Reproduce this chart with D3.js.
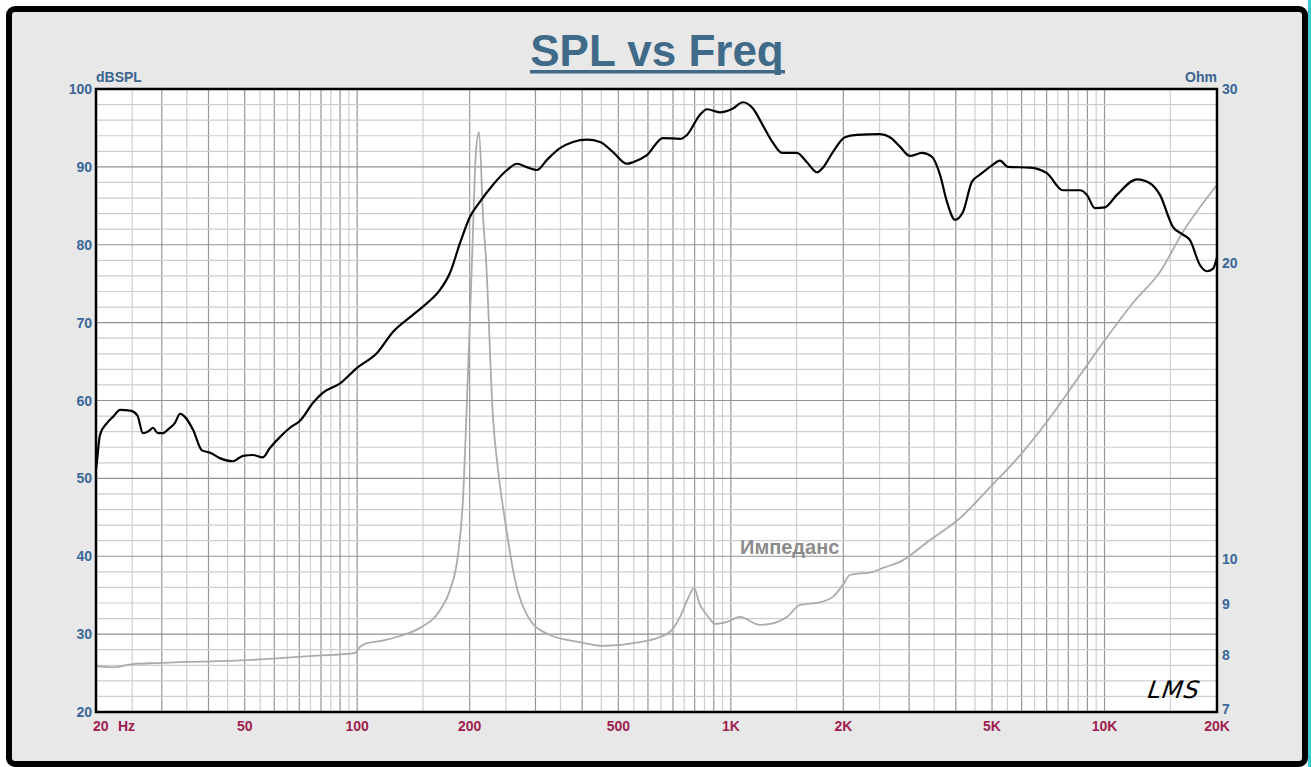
<!DOCTYPE html>
<html>
<head>
<meta charset="utf-8">
<script src="https://cdn.jsdelivr.net/npm/d3@7"></script>
<style>
  body { margin: 0; background: #fff; }
  svg text { font-family: "Liberation Sans", Arial, sans-serif; }
</style>
</head>
<body>
<div id="chart"></div>
<script>
// SPL curve: frequency (Hz) and level (dB SPL)
var splFreq = [20, 20.1, 20.5, 21.4, 22.2, 23.2, 24.7, 25.8, 26.7, 27.9, 28.4, 29.3, 30.2, 31.2, 32.5, 33.6, 34.6, 36.4, 38.4, 40.4, 42.9, 46.5, 49.5, 52.6, 55.9, 58.4, 62.1, 66.1, 70.3, 76.2, 81, 90, 99.9, 113, 124.6, 141, 153.8, 166.6, 177.2, 188.4, 200.4, 213, 230.9, 251.8, 267.7, 286.5, 302.8, 322, 348.9, 378, 412, 446.6, 483.8, 527, 547, 596, 658, 731, 763, 827, 863, 935, 1013, 1077, 1146, 1219, 1296, 1370, 1502, 1598, 1700, 1764, 1875, 2020, 2175, 2506, 2665, 2835, 3015, 3247, 3453, 3628, 3788, 3979, 4180, 4418, 4642, 5000, 5250, 5514, 6314, 7010, 7737, 8595, 8973, 9426, 10020, 10790, 12210, 13230, 14070, 15240, 16210, 16930, 18000, 18800, 19500, 20000];
var splDb = [51.1, 52.0, 55.6, 57.1, 57.9, 58.8, 58.7, 58.1, 55.8, 56.2, 56.5, 55.8, 55.8, 56.3, 57.1, 58.3, 57.9, 56.2, 53.6, 53.3, 52.6, 52.2, 52.9, 53.0, 52.7, 53.9, 55.3, 56.5, 57.4, 59.7, 61.0, 62.2, 64.2, 66.1, 68.8, 71.0, 72.5, 74.2, 76.4, 80.2, 83.6, 85.5, 87.7, 89.6, 90.4, 89.9, 89.6, 90.9, 92.4, 93.2, 93.5, 93.2, 91.9, 90.4, 90.6, 91.5, 93.7, 93.6, 94.1, 96.7, 97.4, 97.0, 97.5, 98.3, 97.5, 95.3, 93.1, 91.8, 91.8, 90.6, 89.3, 89.9, 91.9, 93.8, 94.1, 94.2, 93.8, 92.6, 91.4, 91.8, 91.3, 89.0, 85.5, 83.2, 84.2, 88.1, 89.0, 90.2, 90.8, 90.0, 89.9, 89.2, 87.0, 87.0, 86.4, 84.7, 84.8, 86.4, 88.4, 87.9, 86.4, 82.3, 81.3, 80.6, 77.4, 76.6, 76.9, 78.4];

// impedance curve: frequency (Hz) and ohms
var impFreq = [20, 22.2, 25.1, 29.7, 35, 41.1, 50.7, 62.1, 76.2, 86.1, 98.6, 101.7, 106.2, 115.1, 130.2, 147.2, 166.6, 177.2, 186.1, 191.9, 196.7, 202.9, 208, 211.9, 217.2, 221.3, 230.9, 238.2, 248.6, 264.4, 290, 328, 394.6, 455, 571, 646, 696, 731, 768, 797, 827, 863, 907, 976, 1058, 1196, 1273, 1413, 1531, 1700, 1875, 1995, 2083, 2401, 2553, 2835, 3411, 4103, 4936, 5938, 7143, 8595, 10024, 11910, 14070, 16210, 20000];
var impOhm = [7.79, 7.77, 7.83, 7.85, 7.87, 7.88, 7.90, 7.94, 7.98, 8.00, 8.03, 8.15, 8.22, 8.26, 8.36, 8.52, 8.88, 9.31, 10.10, 11.49, 14.5, 20.1, 26.0, 27.13, 22.25, 20.1, 13.92, 12.32, 10.96, 9.53, 8.68, 8.38, 8.24, 8.17, 8.24, 8.34, 8.48, 8.74, 9.13, 9.35, 8.99, 8.78, 8.60, 8.64, 8.74, 8.58, 8.60, 8.74, 8.99, 9.03, 9.16, 9.42, 9.64, 9.71, 9.80, 9.94, 10.46, 11.01, 11.83, 12.75, 13.92, 15.37, 16.69, 18.2, 19.56, 21.48, 23.97];

// axis ticks and labels
var dbTicks = [20, 30, 40, 50, 60, 70, 80, 90, 100];
var ohmTicks = [7, 8, 9, 10, 20, 30];
var freqTicks = [20, 50, 100, 200, 500, 1000, 2000, 5000, 10000, 20000];
var freqLabels = ["20", "50", "100", "200", "500", "1K", "2K", "5K", "10K", "20K"];

var W = 1313, H = 767;
var plotL = 96, plotR = 1217, plotT = 89, plotB = 712;

var svg = d3.select("#chart").append("svg")
    .attr("width", W)
    .attr("height", H);

// panel and frame
svg.append("rect")
    .attr("x", 9).attr("y", 9)
    .attr("width", 1296).attr("height", 755)
    .attr("rx", 6)
    .style("fill", "#e8e8e8")
    .style("stroke", "#000")
    .style("stroke-width", 6);
svg.append("rect")
    .attr("x", 1308).attr("y", 0)
    .attr("width", 3).attr("height", H)
    .style("fill", "#3cc8d8");

var x = d3.scaleLog().domain([20, 20000]).range([plotL, plotR]);
var yDb = d3.scaleLinear().domain([20, 100]).range([plotB, plotT]);
var yOhm = d3.scaleLog().domain([7, 30]).range([plotB, plotT]);

svg.append("rect")
    .attr("x", plotL).attr("y", plotT)
    .attr("width", plotR - plotL).attr("height", plotB - plotT)
    .style("fill", "#fff");

// vertical grid: every half step of each decade
var vLines = [];
[10, 100, 1000, 10000].forEach(function(d) {
    for (var k = 1; k < 10; k += 0.5) {
        var v = d * k;
        if (v > 20 && v < 20000) vLines.push({v: v, major: k % 1 === 0});
    }
});
svg.append("g").selectAll("line")
    .data(vLines)
    .enter().append("line")
    .attr("x1", function(d) { return x(d.v); })
    .attr("x2", function(d) { return x(d.v); })
    .attr("y1", plotT).attr("y2", plotB)
    .style("stroke", function(d) { return d.major ? "#969696" : "#cfcfcf"; })
    .style("stroke-width", 1.2);

// horizontal grid every 2 dB
var hLines = d3.range(22, 100, 2);
svg.append("g").selectAll("line")
    .data(hLines)
    .enter().append("line")
    .attr("x1", plotL).attr("x2", plotR)
    .attr("y1", function(d) { return yDb(d); })
    .attr("y2", function(d) { return yDb(d); })
    .style("stroke", function(d) { return d % 10 === 0 ? "#929292" : "#cdcdcd"; })
    .style("stroke-width", 1.2);

// curves
var impLine = d3.line()
    .x(function(d) { return x(d[0]); })
    .y(function(d) { return yOhm(d[1]); })
    .curve(d3.curveMonotoneX);
svg.append("path")
    .datum(d3.zip(impFreq, impOhm))
    .attr("d", impLine)
    .style("fill", "none")
    .style("stroke", "#ababab")
    .style("stroke-width", 1.8);

var splLine = d3.line()
    .x(function(d) { return x(d[0]); })
    .y(function(d) { return yDb(d[1]); })
    .curve(d3.curveMonotoneX);
svg.append("path")
    .datum(d3.zip(splFreq, splDb))
    .attr("d", splLine)
    .style("fill", "none")
    .style("stroke", "#000")
    .style("stroke-width", 2.2)
    .style("stroke-linejoin", "round");

// plot border
svg.append("rect")
    .attr("x", plotL).attr("y", plotT)
    .attr("width", plotR - plotL).attr("height", plotB - plotT)
    .style("fill", "none")
    .style("stroke", "#000")
    .style("stroke-width", 2.5);

// left axis labels
svg.append("g").selectAll("text")
    .data(dbTicks)
    .enter().append("text")
    .attr("x", 92)
    .attr("y", function(d) { return yDb(d) + 5; })
    .attr("text-anchor", "end")
    .style("font-size", "14px")
    .style("font-weight", "bold")
    .style("fill", "#39679a")
    .text(function(d) { return d; });

// right axis labels
svg.append("g").selectAll("text")
    .data(ohmTicks)
    .enter().append("text")
    .attr("x", 1222)
    .attr("y", function(d) { return yOhm(d) + 5 - (d === 7 ? 3 : 0); })
    .style("font-size", "14px")
    .style("font-weight", "bold")
    .style("fill", "#39679a")
    .text(function(d) { return d; });

// bottom axis labels
svg.append("g").selectAll("text")
    .data(freqTicks)
    .enter().append("text")
    .attr("x", function(d, i) { return i === 0 ? 93 : x(d); })
    .attr("y", 731)
    .attr("text-anchor", function(d, i) { return i === 0 ? "start" : "middle"; })
    .style("font-size", "14px")
    .style("font-weight", "bold")
    .style("fill", "#a01d4f")
    .text(function(d, i) { return freqLabels[i]; });
svg.append("text")
    .attr("x", 118).attr("y", 731)
    .style("font-size", "14px")
    .style("font-weight", "bold")
    .style("fill", "#a01d4f")
    .text("Hz");

// axis units
svg.append("text")
    .attr("x", 96).attr("y", 82)
    .style("font-size", "14px")
    .style("font-weight", "bold")
    .style("fill", "#3b6490")
    .text("dBSPL");
svg.append("text")
    .attr("x", 1217).attr("y", 82)
    .attr("text-anchor", "end")
    .style("font-size", "14px")
    .style("font-weight", "bold")
    .style("fill", "#3b6490")
    .text("Ohm");

// title
svg.append("text")
    .attr("x", 657).attr("y", 66)
    .attr("text-anchor", "middle")
    .style("font-size", "44px")
    .style("font-weight", "bold")
    .style("fill", "#3f6a88")
    .text("SPL vs Freq");
svg.append("rect")
    .attr("x", 530).attr("y", 70)
    .attr("width", 255).attr("height", 3.5)
    .style("fill", "#3f6a88");

// impedance label
svg.append("text")
    .attr("x", 740).attr("y", 554)
    .style("font-size", "20px")
    .style("font-weight", "bold")
    .style("fill", "#8c8c8c")
    .text("Импеданс");

// LMS mark
svg.append("text")
    .attr("x", 1150).attr("y", 698)
    .attr("transform", "skewX(-8)")
    .attr("dx", 95)
    .style("font-family", "'DejaVu Sans', sans-serif")
    .style("font-size", "24px")
    .style("font-style", "italic")
    .style("font-weight", "normal")
    .style("letter-spacing", "1px")
    .style("fill", "#000")
    .text("LMS");
</script>
</body>
</html>
